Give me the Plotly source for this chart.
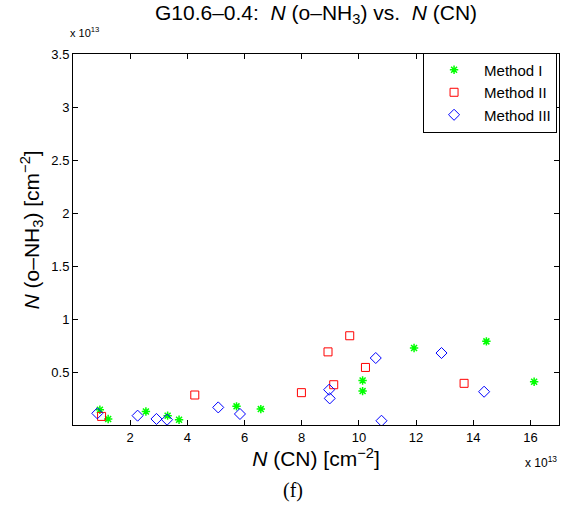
import plotly.graph_objects as go

# Values in units of 1e13 cm^-2
m1_x = [0.94, 1.23, 2.55, 3.31, 3.71, 5.72, 6.57, 10.13, 10.13, 11.93, 14.46, 16.13]
m1_y = [0.144, 0.057, 0.128, 0.088, 0.050, 0.176, 0.150, 0.420, 0.320, 0.726, 0.789, 0.408]

m2_x = [1.00, 4.26, 7.99, 8.92, 9.12, 9.68, 10.23, 13.68]
m2_y = [0.081, 0.283, 0.305, 0.690, 0.380, 0.842, 0.543, 0.393]

m3_x = [0.85, 2.26, 2.92, 3.29, 5.08, 5.84, 8.96, 8.98, 10.59, 10.79, 12.89, 14.38]
m3_y = [0.110, 0.088, 0.057, 0.050, 0.166, 0.104, 0.333, 0.251, 0.632, 0.040, 0.679, 0.314]

x_ticks = [2, 4, 6, 8, 10, 12, 14, 16]
y_ticks = [0.5, 1, 1.5, 2, 2.5, 3, 3.5]
y_tick_labels = ["0.5", "1", "1.5", "2", "2.5", "3", "3.5"]

FONT = "Liberation Sans, Arial, sans-serif"

fig = go.Figure()
fig.add_trace(go.Scatter(x=m1_x, y=m1_y, mode="markers", name="Method I",
                         marker=dict(symbol="asterisk-open", size=7, color="#00ff00",
                                     line=dict(color="#00ff00", width=1.5))))
fig.add_trace(go.Scatter(x=m2_x, y=m2_y, mode="markers", name="Method II",
                         marker=dict(symbol="square-open", size=8, color="#ff0000",
                                     line=dict(color="#ff0000", width=1))))
fig.add_trace(go.Scatter(x=m3_x, y=m3_y, mode="markers", name="Method III",
                         marker=dict(symbol="diamond-open", size=8.5, color="#0000ff",
                                     line=dict(color="#0000ff", width=1))))

axis_common = dict(showline=True, linecolor="black", linewidth=1, mirror="ticks",
                   ticks="inside", ticklen=5, tickcolor="black", tickwidth=1,
                   showgrid=False, zeroline=False,
                   tickfont=dict(family=FONT, size=13, color="black"))

fig.update_xaxes(range=[0, 17], tickvals=x_ticks, ticktext=[str(v) for v in x_ticks],
                 title=dict(text="<i>N</i> (CN) [cm<sup>−2</sup>]",
                            font=dict(family=FONT, size=21, color="black"), standoff=5),
                 **axis_common)
fig.update_yaxes(range=[0, 3.5], tickvals=y_ticks, ticktext=y_tick_labels,
                 **axis_common)

fig.update_layout(
    width=573, height=515,
    margin=dict(l=73, r=14, t=54, b=90),
    plot_bgcolor="white", paper_bgcolor="white",
    hovermode=False, dragmode=False,
    title=dict(text="G10.6–0.4:  <i>N</i> (o–NH<sub>3</sub>) vs.  <i>N</i> (CN)",
               x=0.5515, xanchor="center", y=0.99, yanchor="top",
               font=dict(family=FONT, size=21, color="black")),
    legend=dict(x=0.996, xanchor="right", y=1.004, yanchor="top",
                bordercolor="black", borderwidth=1, bgcolor="white",
                font=dict(family=FONT, size=15, color="black"),
                itemwidth=50, tracegroupgap=0),
    showlegend=True,
)

fig.add_annotation(text="<i>N</i> (o–NH<sub>3</sub>) [cm<sup>−2</sup>]", xref="paper", yref="paper",
                   x=-0.086, y=0.525, xanchor="center", yanchor="middle", textangle=-90,
                   showarrow=False, font=dict(family=FONT, size=21, color="black"))
fig.add_annotation(text="x 10<sup>13</sup>", xref="paper", yref="paper",
                   x=-0.01, y=1.035, xanchor="left", yanchor="bottom", showarrow=False,
                   font=dict(family=FONT, size=11, color="black"))
fig.add_annotation(text="x 10<sup>13</sup>", xref="paper", yref="paper",
                   x=1.0, y=-0.072, xanchor="right", yanchor="top", showarrow=False,
                   font=dict(family=FONT, size=12, color="black"))
fig.add_annotation(text="(f)", xref="paper", yref="paper",
                   x=0.452, y=-0.14, xanchor="center", yanchor="top", showarrow=False,
                   font=dict(family="Liberation Serif, Times New Roman, serif", size=20, color="black"))

fig.write_html("out.html", config={"displayModeBar": False, "staticPlot": True},
               post_script="document.body.style.margin='0px';")
